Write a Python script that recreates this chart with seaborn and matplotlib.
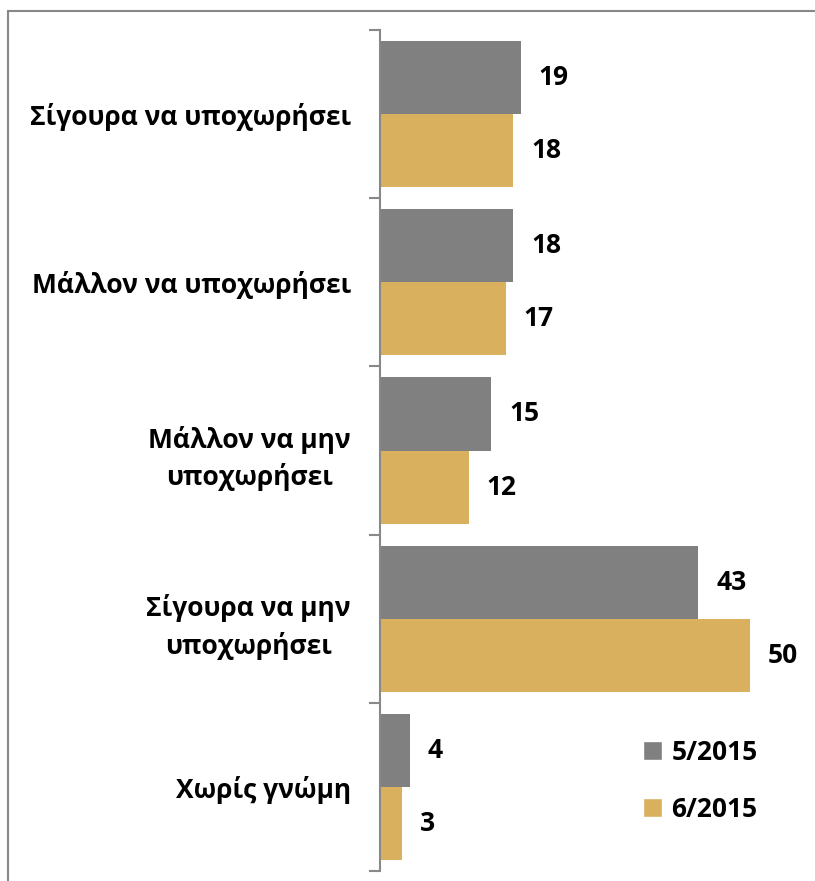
import matplotlib
matplotlib.use("Agg")
import matplotlib.pyplot as plt
import seaborn as sns
import pandas as pd
from matplotlib.patches import Rectangle, Patch

categories = ["Σίγουρα να υποχωρήσει", "Μάλλον να υποχωρήσει", "Μάλλον να μην\nυποχωρήσει",
              "Σίγουρα να μην\nυποχωρήσει", "Χωρίς γνώμη"]
series_names = ["5/2015", "6/2015"]
values_may = [19, 18, 15, 43, 4]
values_june = [18, 17, 12, 50, 3]
colors = ["#808080", "#D8B05E"]

rows = []
for c, a, b in zip(categories, values_may, values_june):
    rows.append({"cat": c, "series": series_names[0], "val": a})
    rows.append({"cat": c, "series": series_names[1], "val": b})
df = pd.DataFrame(rows)

sns.set_style("white")
plt.rcParams["font.family"] = ["Open Sans", "DejaVu Sans"]
plt.rcParams["text.color"] = "black"
plt.rcParams["ytick.color"] = "#888888"
plt.rcParams["ytick.labelcolor"] = "black"

W, H = 815, 881
fig = plt.figure(figsize=(W / 100, H / 100), dpi=100)
ax = fig.add_axes([380 / W, 1 - 871 / H, 1 - 380 / W, (871 - 30) / H])

sns.barplot(data=df, y="cat", x="val", hue="series", palette=colors, orient="h",
            width=0.87, ax=ax, saturation=1, legend=False, edgecolor="none")

ax.set_xlim(0, (W - 380) / 7.4)
ax.set_ylim(4.5, -0.5)
ax.set_xlabel("")
ax.set_ylabel("")
ax.set_xticks([])
for s in ["top", "right", "bottom"]:
    ax.spines[s].set_visible(False)
ax.spines["left"].set_color("#888888")
ax.spines["left"].set_linewidth(1.5)

n = len(categories)
ax.set_yticks([i - 0.5 for i in range(n + 1)])
ax.set_yticklabels([])
ax.tick_params(axis="y", which="major", length=8, width=1.5, color="#888888", direction="out", left=True)
ax.set_yticks(list(range(n)), minor=True)
ax.set_yticklabels(categories, minor=True, fontsize=19, fontweight="bold", multialignment="center",
                   linespacing=1.45, color="black")
ax.tick_params(axis="y", which="minor", length=0, pad=21)

for cont in ax.containers:
    ax.bar_label(cont, padding=13, fontsize=19, fontweight="bold", color="black")

handles = [Patch(facecolor=colors[0]), Patch(facecolor=colors[1])]
fig.legend(handles, series_names, loc="upper left", bbox_to_anchor=(632 / W, 1 - 728 / H),
           frameon=False, prop={"size": 19, "weight": "bold"}, handlelength=0.75, handleheight=0.75,
           handletextpad=0.35, labelspacing=1.15, borderaxespad=0, labelcolor="black")

fig.add_artist(Rectangle((8 / W, -0.01), 1.0, 1 - 11 / H + 0.01, transform=fig.transFigure,
                         fill=False, edgecolor="#888888", linewidth=1.5, clip_on=False))

fig.savefig("out.png", dpi=100)
